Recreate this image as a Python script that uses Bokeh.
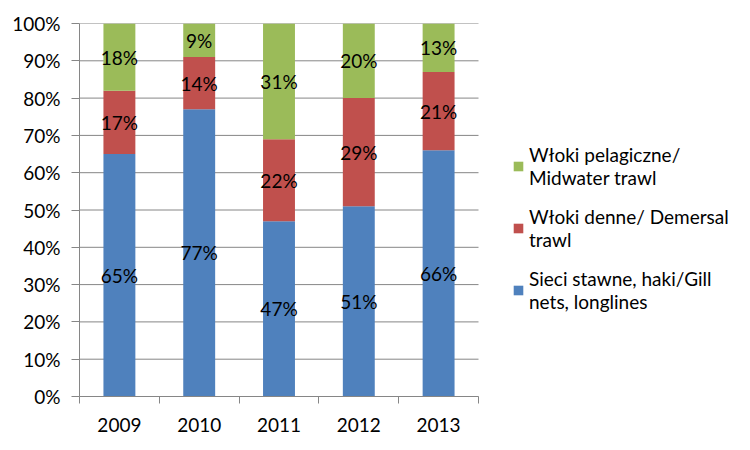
from bokeh.plotting import figure
from bokeh.models import ColumnDataSource, FixedTicker, LabelSet, Legend, LegendItem
from bokeh.core.properties import value
from bokeh.embed import file_html
from bokeh.resources import INLINE

years = ["2009", "2010", "2011", "2012", "2013"]
gill = [65, 77, 47, 51, 66]
demersal = [17, 14, 22, 29, 21]
midwater = [18, 9, 31, 20, 13]
series_names = ["Sieci stawne, haki/Gill\nnets, longlines",
                "Włoki denne/ Demersal\ntrawl",
                "Włoki pelagiczne/\nMidwater trawl"]
colors = ["#4F81BD", "#C0504D", "#9BBB59"]
y_ticks = [0, 10, 20, 30, 40, 50, 60, 70, 80, 90, 100]

FONT = "Lato"
FS = "19px"
GRID = "#868686"

W, H = 734, 434
LEFT, RIGHT, TOP, BOTTOM = 79, 0, 23, 37
DATA_PX = 399  # pixel width of the category area
n = len(years)
frame_w = W - LEFT - RIGHT
x_end = n * frame_w / DATA_PX

xs = [i + 0.5 for i in range(n)]
source = ColumnDataSource(dict(x=xs, gill=gill, demersal=demersal, midwater=midwater))

p = figure(width=W, height=H, output_backend="svg", toolbar_location=None,
           x_range=(0, x_end), y_range=(0, 100),
           min_border_left=LEFT, min_border_right=RIGHT, min_border_top=TOP, min_border_bottom=BOTTOM)
p.outline_line_color = None
p.background_fill_color = "white"
p.xgrid.grid_line_color = None
p.ygrid.grid_line_color = None

# horizontal gridlines limited to the category area
p.segment(x0=[0] * len(y_ticks), x1=[n] * len(y_ticks), y0=y_ticks, y1=y_ticks,
          line_color=GRID, line_width=1)

renderers = p.vbar_stack(["gill", "demersal", "midwater"], x="x", width=0.4,
                         color=colors, line_color=None, source=source)

# labels
cols = [gill, demersal, midwater]
lab_x, lab_y, lab_t = [], [], []
for i in range(n):
    base = 0
    for c in cols:
        v = c[i]
        lab_x.append(xs[i])
        lab_y.append(base + v / 2)
        lab_t.append(f"{v}%")
        base += v
lab_src = ColumnDataSource(dict(x=lab_x, y=lab_y, t=lab_t))
p.add_layout(LabelSet(x="x", y="y", text="t", source=lab_src, text_align="center",
                      text_baseline="middle", text_font=value(FONT), text_font_size=value(FS),
                      text_color="black"))

# y axis
p.yaxis.ticker = FixedTicker(ticks=y_ticks)
p.yaxis.major_label_overrides = {t: f"{t}%" for t in y_ticks}
p.yaxis.axis_line_color = GRID
p.yaxis.major_tick_line_color = GRID
p.yaxis.major_tick_out = 8
p.yaxis.major_tick_in = 0
p.yaxis.minor_tick_line_color = None
p.yaxis.major_label_text_font = FONT
p.yaxis.major_label_text_font_size = FS
p.yaxis.major_label_text_color = "black"
p.yaxis.major_label_standoff = 11

# x axis
p.xaxis.bounds = (0, n)
p.xaxis.ticker = FixedTicker(ticks=xs, minor_ticks=list(range(n + 1)))
p.xaxis.major_label_overrides = {x: y for x, y in zip(xs, years)}
p.xaxis.axis_line_color = GRID
p.xaxis.major_tick_line_color = None
p.xaxis.major_tick_out = 0
p.xaxis.major_tick_in = 0
p.xaxis.minor_tick_line_color = GRID
p.xaxis.minor_tick_out = 7
p.xaxis.minor_tick_in = 0
p.xaxis.major_label_text_font = FONT
p.xaxis.major_label_text_font_size = FS
p.xaxis.major_label_text_color = "black"
p.xaxis.major_label_standoff = 14

items = [LegendItem(label=series_names[k], renderers=[renderers[k]]) for k in (2, 1, 0)]
legend = Legend(items=items, location=(433, 83), padding=0, margin=0,
                border_line_color=None, background_fill_alpha=0,
                label_text_font=FONT, label_text_font_size="19px", label_text_color="black",
                label_text_line_height=1.15,
                glyph_width=12, glyph_height=12, label_standoff=5, spacing=16)
p.add_layout(legend, "center")

open("out.html", "w").write(file_html(p, INLINE))
